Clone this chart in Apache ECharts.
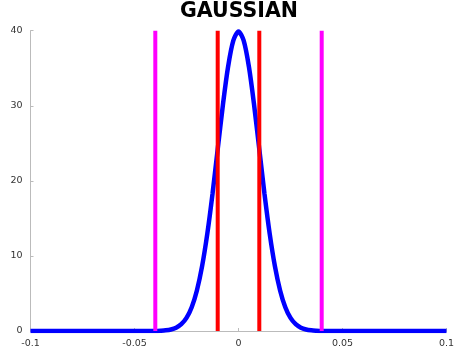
<!DOCTYPE html>
<html><head><meta charset="utf-8">
<script src="https://cdn.jsdelivr.net/npm/echarts@6/dist/echarts.min.js"></script>
<style>html,body{margin:0;padding:0;background:#fff;overflow:hidden}#c{width:454px;height:355px}</style>
</head><body><div id="c"></div>
<script>
var curveX = [-0.1, -0.045, -0.04, -0.0375, -0.035, -0.0325, -0.03, -0.0275, -0.025, -0.0225, -0.02, -0.0175, -0.015, -0.0125, -0.01, -0.0075, -0.005, -0.0025, 0, 0.0025, 0.005, 0.0075, 0.01, 0.0125, 0.015, 0.0175, 0.02, 0.0225, 0.025, 0.0275, 0.03, 0.0325, 0.035, 0.0375, 0.04, 0.045, 0.1];
var curveY = [0, 0, 0.01, 0.04, 0.09, 0.2, 0.44, 0.91, 1.75, 3.17, 5.4, 8.63, 12.95, 18.26, 24.2, 30.11, 35.21, 38.67, 39.89, 38.67, 35.21, 30.11, 24.2, 18.26, 12.95, 8.63, 5.4, 3.17, 1.75, 0.91, 0.44, 0.2, 0.09, 0.04, 0.01, 0, 0];
var innerLimits = [-0.01, 0.01];
var outerLimits = [-0.04, 0.04];
var yRange = [0, 40];
var xTicks = [-0.1, -0.05, 0, 0.05, 0.1];
var yTicks = [0, 10, 20, 30, 40];
var titleText = 'GAUSSIAN';

var chart = echarts.init(document.getElementById('c'), null, {renderer: 'canvas', width: 454, height: 355});
function vline(x, color) {
  return {type: 'line', data: [[x, yRange[0]], [x, yRange[1]]], symbol: 'none',
    lineStyle: {color: color, width: 4}, z: 5, animation: false, silent: true};
}
var series = [{
  type: 'line', data: curveX.map(function (x, i) { return [x, curveY[i]]; }),
  symbol: 'none', smooth: 0.3, lineStyle: {color: '#0000ff', width: 4.5}, z: 3, animation: false
}];
innerLimits.forEach(function (x) { series.push(vline(x, '#ff0000')); });
outerLimits.forEach(function (x) { series.push(vline(x, '#ff00ff')); });

chart.setOption({
  animation: false,
  title: {text: titleText, left: 234, textAlign: 'center', top: -4,
    textStyle: {fontFamily: 'DejaVu Sans', fontWeight: 'bold', fontSize: 20.5, color: '#000'}},
  grid: {left: 30.5, right: 7.5, top: 30.7, bottom: 24, containLabel: false, outerBoundsMode: 'none'},
  xAxis: {type: 'value', min: -0.1, max: 0.1, interval: 0.05,
    axisLine: {show: true, onZero: false, lineStyle: {color: '#bbbbbb', width: 1}},
    axisTick: {show: true, inside: true, length: 3, lineStyle: {color: '#bbbbbb'}},
    splitLine: {show: false},
    axisLabel: {fontFamily: 'DejaVu Sans', fontSize: 9.5, color: '#333', margin: 8,
      showMinLabel: true, showMaxLabel: true, hideOverlap: false,
      formatter: function (v) { var r = Math.round(v * 100) / 100; return r === 0 ? '0' : String(r); }}},
  yAxis: {type: 'value', min: 0, max: 40, interval: 10,
    axisLine: {show: true, onZero: false, lineStyle: {color: '#bbbbbb', width: 1}},
    axisTick: {show: true, inside: true, length: 3, lineStyle: {color: '#bbbbbb'}},
    splitLine: {show: false},
    axisLabel: {fontFamily: 'DejaVu Sans', fontSize: 9.5, color: '#333', margin: 8}},
  series: series
});
</script></body></html>
